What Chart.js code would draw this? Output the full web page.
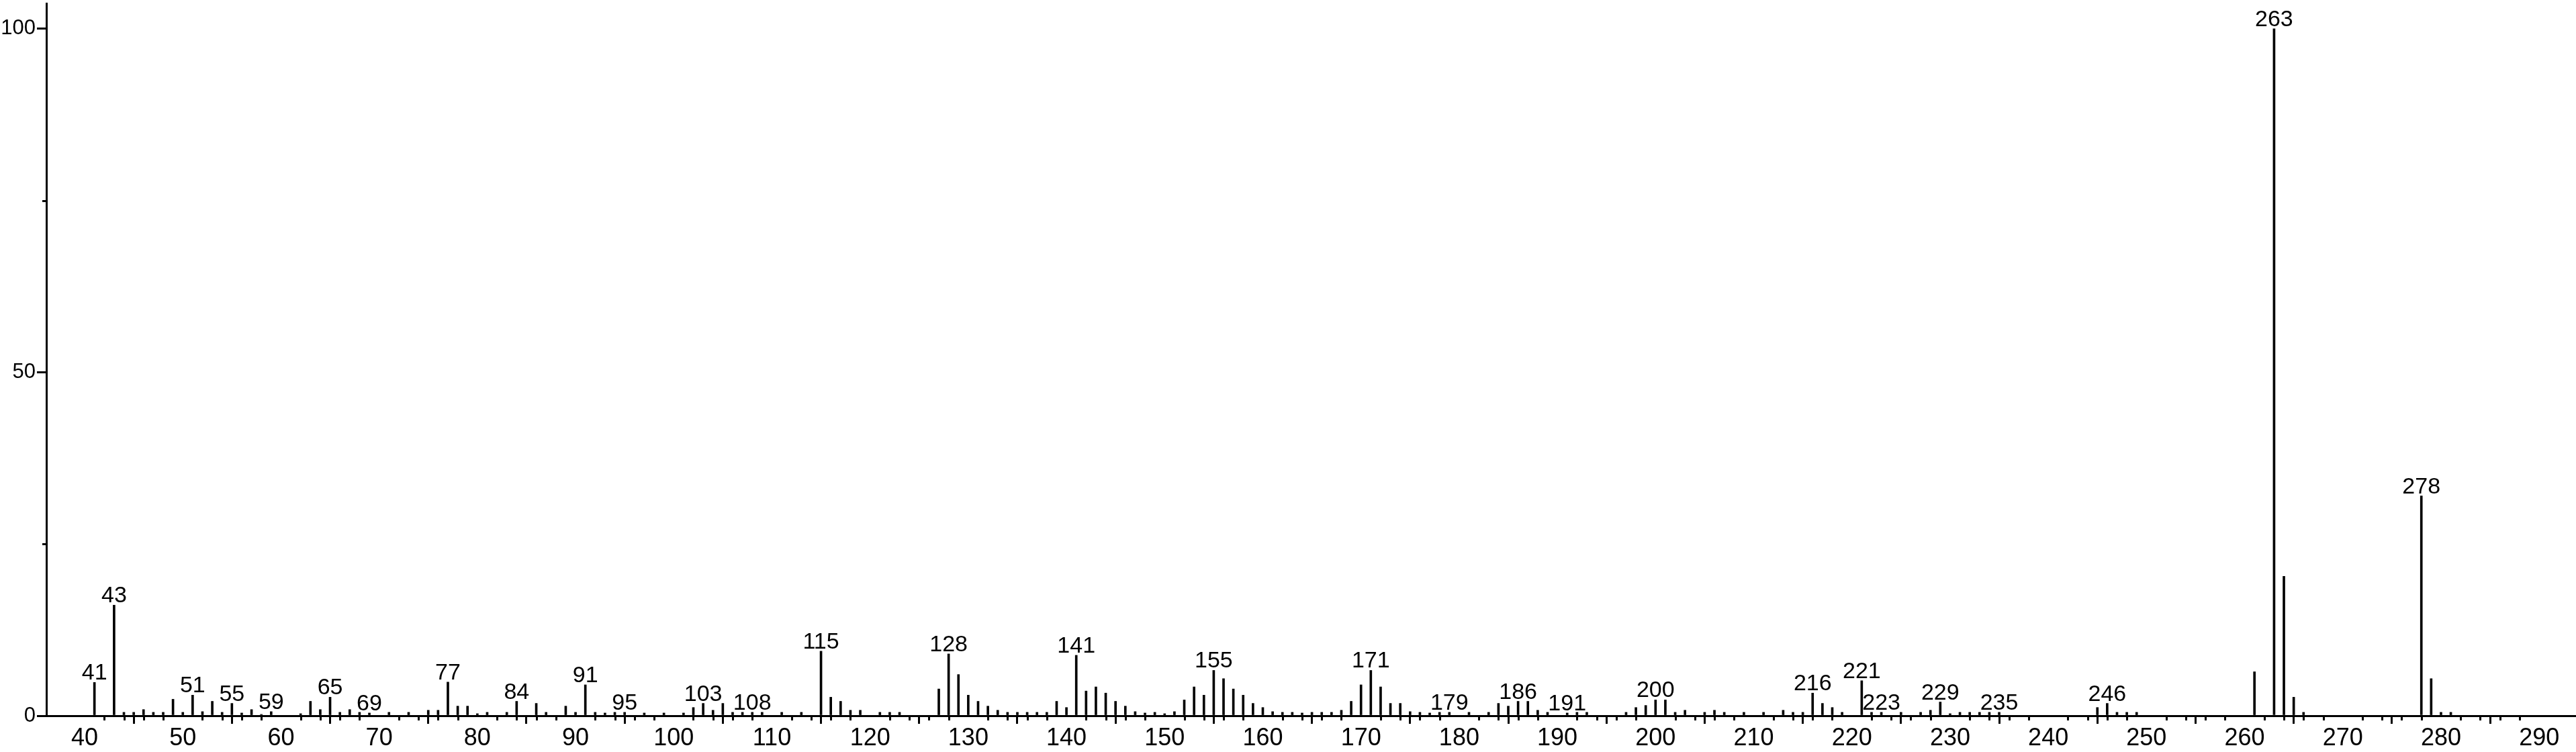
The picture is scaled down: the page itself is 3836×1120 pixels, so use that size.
<!DOCTYPE html>
<html>
<head>
<meta charset="utf-8">
<script src="https://cdn.jsdelivr.net/npm/chart.js@4/dist/chart.umd.min.js"></script>
<style>
html,body{margin:0;padding:0;background:#fff;}
#wrap{width:3836px;height:1120px;}
</style>
</head>
<body>
<div id="wrap"><canvas id="c" width="3836" height="1120"></canvas></div>
<script>
// m/z values of the peaks
const mz = [41,43,44,45,46,47,48,49,50,51,52,53,54,55,56,57,58,59,
  62,63,64,65,66,67,68,69,71,73,75,76,77,78,79,80,81,83,84,86,87,89,90,
  91,92,93,94,95,97,99,101,102,103,104,105,106,107,108,109,111,113,
  115,116,117,118,119,121,122,123,127,128,129,130,131,132,133,134,135,136,137,138,
  139,140,141,142,143,144,145,146,147,148,149,150,151,152,153,154,155,156,157,158,159,
  160,161,162,163,164,165,166,167,168,169,170,171,172,173,174,175,176,177,178,179,
  181,183,184,185,186,187,188,189,191,192,193,197,198,199,200,201,202,203,205,206,207,
  209,211,213,214,215,216,217,218,219,221,222,223,225,227,228,229,230,231,232,233,234,235,
  245,246,247,248,249,261,263,264,265,266,278,279,280,281];
// relative intensities (%)
const intensity = [4.85,16.1,0.5,0.5,0.9,0.5,0.5,2.4,0.5,3.0,0.6,2.1,0.5,1.8,0.4,0.9,0.2,0.6,
  0.3,2.1,0.9,2.7,0.5,0.9,0.5,0.4,0.5,0.5,0.8,0.8,4.9,1.4,1.4,0.3,0.5,0.5,2.1,1.8,0.5,1.4,0.5,
  4.5,0.5,0.4,0.5,0.5,0.4,0.4,0.4,1.2,1.8,0.8,1.8,0.5,0.5,0.5,0.5,0.5,0.5,
  9.4,2.7,2.1,0.8,0.8,0.5,0.5,0.5,3.9,9.0,6.0,3.0,2.1,1.4,0.8,0.5,0.5,0.5,0.5,0.5,
  2.1,1.2,8.8,3.6,4.2,3.3,2.1,1.4,0.6,0.4,0.5,0.3,0.6,2.3,4.2,3.0,6.6,5.4,3.9,3.0,1.8,
  1.2,0.6,0.5,0.5,0.4,0.5,0.5,0.5,0.8,2.1,4.5,6.6,4.2,1.8,1.8,0.6,0.5,0.4,0.5,0.5,
  0.5,0.5,1.8,1.4,2.1,2.1,0.8,0.5,0.4,0.5,0.5,0.5,1.2,1.5,2.3,2.3,0.5,0.8,0.5,0.8,0.5,
  0.5,0.5,0.8,0.5,0.5,3.3,1.8,1.2,0.5,5.1,0.5,0.5,0.5,0.5,0.8,2.0,0.3,0.5,0.5,0.5,0.5,0.5,
  1.2,1.8,0.5,0.5,0.5,6.4,100,20.3,2.7,0.5,32.0,5.4,0.5,0.5];
// peaks carrying a text label
const labeledPeaks = [41,43,51,55,59,65,69,77,84,91,95,103,108,115,128,141,155,171,179,186,
  191,200,216,221,223,229,235,246,263,278];
// axis ticks
const xTicks = [40,50,60,70,80,90,100,110,120,130,140,150,160,170,180,190,200,210,220,230,240,250,260,270,280,290];
const xMinorTicks = [42,44,46,48,52,54,56,58,62,64,66,68,72,74,76,78,82,84,86,88,92,94,96,98,
  102,104,106,108,112,114,116,118,122,124,126,128,132,134,136,138,142,144,146,148,152,154,156,158,
  162,164,166,168,172,174,176,178,182,184,186,188,192,194,196,198,202,204,206,208,212,214,216,218,
  222,224,226,228,232,234,236,238,242,244,246,248,252,254,256,258,262,264,266,268,272,274,276,278,
  282,284,286,288];
const yTicks = [0,50,100];
const yMinorTicks = [25,75];

const FONT = "'Liberation Sans', Arial, sans-serif";
function hasFont(name) {
  const c = document.createElement('canvas').getContext('2d');
  c.font = '40px monospace';
  const a = c.measureText('0123456789').width;
  c.font = '40px "' + name + '", monospace';
  const b = c.measureText('0123456789').width;
  return Math.abs(a - b) > 0.5;
}
const NARROW = hasFont('Liberation Sans Narrow');
const tickFontX = NARROW ? { family: "'Liberation Sans Narrow'", size: 40 } : { family: FONT, size: 36 };
const tickFontY = NARROW ? { family: "'Liberation Sans Narrow'", size: 37 } : { family: FONT, size: 31 };

const extras = {
  id: 'extras',
  afterDatasetsDraw(chart) {
    const ctx = chart.ctx;
    const xs = chart.scales.x, ys = chart.scales.y;
    ctx.save();
    ctx.fillStyle = '#000';
    ctx.font = '34px ' + FONT;
    ctx.textAlign = 'center';
    ctx.textBaseline = 'alphabetic';
    labeledPeaks.forEach(m => {
      const i = mz.indexOf(m);
      if (i < 0) return;
      const px = xs.getPixelForValue(m);
      const py = ys.getPixelForValue(intensity[i]);
      ctx.fillText(String(m), px, py - 4);
    });
    ctx.restore();
  },
  afterDraw(chart) {
    const ctx = chart.ctx;
    const xs = chart.scales.x, ys = chart.scales.y;
    const ca = chart.chartArea;
    ctx.save();
    ctx.strokeStyle = '#000';
    ctx.lineWidth = 3;
    ctx.beginPath();
    xMinorTicks.forEach(v => {
      const px = Math.round(xs.getPixelForValue(v)) + 0.5;
      ctx.moveTo(px, ca.bottom);
      ctx.lineTo(px, ca.bottom + 7);
    });
    yMinorTicks.forEach(v => {
      const py = Math.round(ys.getPixelForValue(v)) + 0.5;
      ctx.moveTo(ca.left, py);
      ctx.lineTo(ca.left - 6, py);
    });
    ctx.stroke();
    ctx.restore();
  }
};

new Chart(document.getElementById('c'), {
  type: 'bar',
  data: {
    datasets: [{
      data: mz.map((m, i) => ({ x: m, y: intensity[i] })),
      backgroundColor: '#000',
      borderWidth: 0,
      barThickness: 3
    }]
  },
  options: {
    responsive: false,
    animation: false,
    devicePixelRatio: 1,
    layout: { padding: { top: 5, right: 0, left: 0, bottom: 0 } },
    plugins: { legend: { display: false }, tooltip: { enabled: false } },
    scales: {
      x: {
        type: 'linear',
        min: 36.1,
        max: 293.75,
        offset: false,
        border: { display: true, color: '#000', width: 3 },
        grid: { drawOnChartArea: false, drawTicks: true, tickLength: 12, color: '#000', lineWidth: 3 },
        ticks: { color: '#000', font: tickFontX, padding: 0, autoSkip: false, maxRotation: 0 },
        afterBuildTicks: s => { s.ticks = xTicks.map(v => ({ value: v })); },
        afterFit: s => { s.height = 54; s.paddingLeft = 0; s.paddingRight = 0; }
      },
      y: {
        min: 0,
        max: 103.7,
        border: { display: true, color: '#000', width: 3 },
        grid: { drawOnChartArea: false, drawTicks: true, tickLength: 14, color: '#000', lineWidth: 3 },
        ticks: { color: '#000', font: tickFontY, padding: 2 },
        afterBuildTicks: s => { s.ticks = yTicks.map(v => ({ value: v })); },
        afterFit: s => { s.width = 69; s.paddingTop = 0; s.paddingBottom = 0; }
      }
    }
  },
  plugins: [extras]
});
</script>
</body>
</html>
